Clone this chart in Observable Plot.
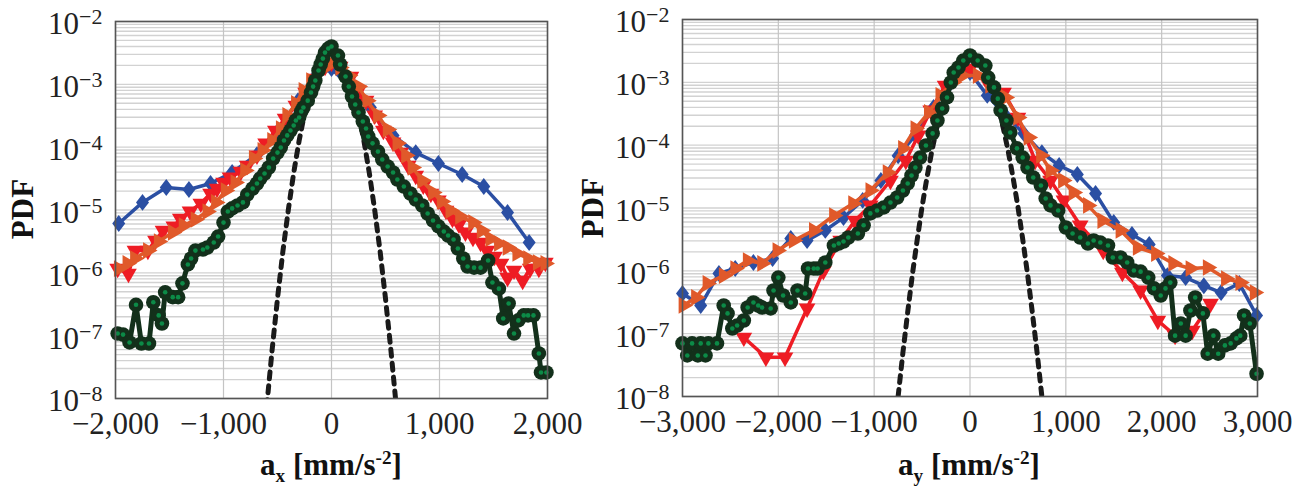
<!DOCTYPE html>
<html><head><meta charset="utf-8">
<script src="https://cdn.jsdelivr.net/npm/d3@7"></script>
<script src="https://cdn.jsdelivr.net/npm/@observablehq/plot@0.6"></script>
<style>
body{margin:0;background:#fff;}
#wrap{position:relative;width:1304px;height:488px;overflow:hidden;font-family:"Liberation Serif",serif;color:#111;}
.panel{position:absolute;top:0;font-family:"Liberation Serif",serif !important;}
.panel text{font-family:"Liberation Serif",serif;}
.xlabel{position:absolute;font-weight:bold;font-size:31px;line-height:31px;white-space:nowrap;transform:translateX(-50%);}
.xlabel sub,.xlabel sup{font-size:0.62em;line-height:0;}
.ylabel{position:absolute;font-weight:bold;font-size:31px;line-height:31px;white-space:nowrap;transform:translate(-50%,-50%) rotate(-90deg);}
</style></head><body><div id="wrap"></div>
<script>
// ---------- shared ticks ----------
const yTicks = [1e-8, 1e-7, 1e-6, 1e-5, 1e-4, 1e-3, 1e-2];
const axTicks = [-2000, -1000, 0, 1000, 2000];
const ayTicks = [-3000, -2000, -1000, 0, 1000, 2000, 3000];

// ---------- a_x panel ----------
const axGaussX = [-600,-550,-500,-450,-400,-350,-300,-250,-200,-150,-100,-50,0,50,100,150,200,250,300,350,400,450,500,550,600];
const axGaussPdf = [7.4e-9,5.9e-8,3.9e-7,2.2e-6,1.0e-5,3.9e-5,1.26e-4,3.4e-4,7.6e-4,1.44e-3,2.25e-3,2.96e-3,3.24e-3,2.96e-3,2.25e-3,1.44e-3,7.6e-4,3.4e-4,1.26e-4,3.9e-5,1.0e-5,2.2e-6,3.9e-7,5.9e-8,7.4e-9];

const axBlueX = [-1970,-1750,-1530,-1320,-1120,-920,-690,-500,-310,-150,0,180,360,570,780,990,1210,1410,1630,1830];
const axBluePdf = [6.1e-6,1.32e-5,2.28e-5,2.12e-5,2.64e-5,3.95e-5,7.6e-5,1.78e-4,5.5e-4,1.33e-3,1.78e-3,8.6e-4,4.28e-4,1.54e-4,8.2e-5,5.5e-5,3.67e-5,2.36e-5,9.1e-6,3.04e-6];

const axRedX = [-1980,-1880,-1820,-1700,-1630,-1560,-1460,-1400,-1310,-1210,-1120,-1060,-1000,-940,-840,-780,-690,-610,-520,-430,-330,-240,-150,-60,0,
  80,180,250,320,400,480,570,640,710,780,850,920,990,1060,1120,1180,1240,1310,1380,1440,1510,1570,1630,1690,1770,1840,1920,1980];
const axRedPdf = [1.17e-6,9.7e-7,2.26e-6,2.26e-6,3.27e-6,4.7e-6,5.5e-6,7.3e-6,9.5e-6,1.27e-5,1.83e-5,2.2e-5,2.74e-5,3.3e-5,4.1e-5,5.1e-5,7.4e-5,1.15e-4,1.84e-4,2.86e-4,4.6e-4,7.4e-4,1.24e-3,1.92e-3,2.22e-3,
  1.92e-3,1.33e-3,8.0e-4,5.5e-4,3.2e-4,1.84e-4,1.19e-4,8.2e-5,5.1e-5,3.54e-5,2.46e-5,1.83e-5,1.42e-5,9.8e-6,7.3e-6,5.9e-6,4.4e-6,3.65e-6,3.04e-6,2.26e-6,1.82e-6,1.41e-6,8.4e-7,1.09e-6,7.5e-7,1.17e-6,1.17e-6,1.46e-6];

const axOrangeX = [-1970,-1890,-1820,-1700,-1600,-1470,-1370,-1260,-1150,-1070,-980,-890,-800,-720,-640,-550,-470,-410,-330,-260,-190,-100,0,
  80,160,250,330,430,520,610,690,750,840,940,1020,1100,1190,1310,1390,1470,1550,1630,1720,1820,1910,1980];
const axOrangePdf = [1.17e-6,1.41e-6,1.69e-6,2.26e-6,3.15e-6,4.4e-6,5.66e-6,7.06e-6,9.45e-6,1.32e-5,2.04e-5,2.74e-5,4.25e-5,6.6e-5,8.9e-5,1.28e-4,1.98e-4,3.2e-4,4.96e-4,8.0e-4,1.15e-3,1.66e-3,2.14e-3,
  1.85e-3,1.38e-3,9.2e-4,5.5e-4,3.2e-4,1.91e-4,1.15e-4,7.4e-5,4.75e-5,2.95e-5,1.9e-5,1.37e-5,9.8e-6,7.9e-6,6.3e-6,4.7e-6,3.5e-6,2.93e-6,2.53e-6,2.03e-6,1.69e-6,1.46e-6,1.41e-6];

const axGreenX = [-1980,-1930,-1870,-1810,-1760,-1690,-1650,-1600,-1570,-1540,-1470,-1420,-1380,-1330,-1300,-1260,-1190,-1150,-1090,-1050,-1000,-960,-920,-870,-820,-780,-730,-690,-660,-620,-580,-540,-500,-470,-440,-410,-380,-350,-330,-300,-280,-260,-220,-190,-170,-150,-120,-100,-80,-60,-30,0,
  60,80,130,160,190,220,250,290,320,340,380,430,470,520,570,610,670,730,780,840,890,940,990,1040,1080,1130,1170,1220,1260,1320,1380,1450,1490,1550,1590,1640,1690,1730,1780,1820,1870,1920,1940,1990];
const axGreenPdf = [1.08e-7,1.04e-7,7.8e-8,3.1e-7,7.5e-8,7.5e-8,3.4e-7,2.1e-7,1.56e-7,4.9e-7,4.1e-7,4.1e-7,6.8e-7,1.36e-6,1.69e-6,2.26e-6,2.35e-6,2.53e-6,3.04e-6,3.78e-6,6.3e-6,9.45e-6,1.06e-5,1.18e-5,1.32e-5,1.76e-5,2.2e-5,2.64e-5,3.17e-5,3.81e-5,4.75e-5,6.6e-5,8.2e-5,9.9e-5,1.28e-4,1.54e-4,1.84e-4,2.21e-4,2.66e-4,2.97e-4,3.7e-4,4.28e-4,5.5e-4,7.4e-4,9.2e-4,1.15e-3,1.66e-3,2.07e-3,2.57e-3,3.2e-3,3.71e-3,4.0e-3,
  2.87e-3,2.07e-3,1.33e-3,9.2e-4,6.4e-4,4.77e-4,3.57e-4,2.56e-4,1.98e-4,1.48e-4,1.15e-4,8.5e-5,6.35e-5,4.92e-5,3.95e-5,3.06e-5,2.36e-5,1.83e-5,1.47e-5,1.18e-5,8.8e-6,6.8e-6,5.5e-6,4.54e-6,3.92e-6,3.39e-6,2.44e-6,1.69e-6,1.26e-6,1.21e-6,1.21e-6,1.57e-6,7.0e-7,5.6e-7,1.88e-7,3.25e-7,1.08e-7,1.75e-7,2.1e-7,2.1e-7,2.1e-7,5.2e-8,2.6e-8,2.6e-8];

// ---------- a_y panel ----------
const ayGaussX = [-750,-700,-650,-600,-550,-500,-450,-400,-350,-300,-250,-200,-100,0,100,200,250,300,350,400,450,500,550,600,650,700,750];
const ayGaussPdf = [1.0e-8,5.0e-8,2.2e-7,9.0e-7,3.2e-6,1.05e-5,3.0e-5,7.8e-5,1.8e-4,3.7e-4,6.8e-4,1.13e-3,2.2e-3,2.75e-3,2.2e-3,1.13e-3,6.8e-4,3.7e-4,1.8e-4,7.8e-5,3.0e-5,1.05e-5,3.2e-6,9.0e-7,2.2e-7,5.0e-8,1.0e-8];

const ayBlueX = [-3000,-2810,-2620,-2450,-2260,-2060,-1870,-1700,-1510,-1320,-1120,-930,-750,-570,-380,-200,0,180,370,560,750,930,1120,1310,1500,1690,1870,2060,2250,2440,2620,2810,2990];
const ayBluePdf = [4.36e-7,2.81e-7,9.1e-7,1.09e-6,1.36e-6,1.57e-6,3.27e-6,3.04e-6,4.4e-6,7.06e-6,1.32e-5,2.74e-5,6.8e-5,1.43e-4,3.98e-4,9.95e-4,1.43e-3,6.2e-4,2.97e-4,1.54e-4,7.6e-5,4.75e-5,3.42e-5,1.7e-5,5.9e-6,3.78e-6,2.62e-6,8.4e-7,7.8e-7,5.8e-7,4.5e-7,6.3e-7,1.95e-7];

const ayRedX = [-2360,-2130,-1930,-1700,-1530,-1350,-1200,-1040,-830,-670,-540,-410,-260,-120,0,160,350,500,680,840,980,1150,1390,1590,1780,1960,2140,2320,2510];
const ayRedPdf = [8.7e-8,4.2e-8,4.2e-8,2.52e-7,1.0e-6,3.04e-6,6.3e-6,1.1e-5,2.74e-5,5.7e-5,1.43e-4,3.57e-4,8.9e-4,1.43e-3,1.66e-3,1.15e-3,6.9e-4,2.76e-4,5.7e-5,2.74e-5,1.32e-5,5.3e-6,2.1e-6,9.4e-7,4.9e-7,1.62e-7,9.3e-8,1.12e-7,3.02e-7];

const ayOrangeX = [-2990,-2860,-2740,-2570,-2450,-2320,-2170,-2010,-1840,-1630,-1420,-1220,-1040,-860,-700,-570,-430,-310,-180,-80,80,210,370,500,610,740,840,970,1080,1230,1380,1570,1750,1940,2120,2300,2480,2670,2820,2970];
const ayOrangePdf = [2.81e-7,3.77e-7,6.3e-7,8.4e-7,1.09e-6,1.46e-6,1.31e-6,2.1e-6,3.04e-6,4.4e-6,7.6e-6,1.18e-5,1.9e-5,3.67e-5,8.9e-5,1.84e-4,3.32e-4,6.2e-4,1.0e-3,1.28e-3,1.28e-3,8.9e-4,5.75e-4,2.76e-4,1.33e-4,6.85e-5,3.95e-5,2.74e-5,1.76e-5,1.1e-5,6.3e-6,4.4e-6,2.35e-6,1.88e-6,1.31e-6,1.09e-6,1.13e-6,7.5e-7,6.5e-7,4.5e-7];

const ayGreenX = [-3000,-2950,-2900,-2840,-2810,-2760,-2730,-2640,-2570,-2530,-2480,-2430,-2360,-2320,-2260,-2210,-2170,-2080,-2050,-2000,-1950,-1870,-1800,-1720,-1690,-1630,-1590,-1510,-1420,-1370,-1320,-1270,-1170,-1110,-1040,-970,-900,-830,-760,-700,-650,-610,-570,-520,-460,-390,-340,-290,-240,-200,-170,-120,-70,0,
  80,160,190,250,290,320,380,420,490,550,600,660,740,790,840,920,1000,1070,1150,1230,1290,1360,1440,1490,1570,1640,1710,1780,1860,1920,1990,2040,2090,2140,2200,2250,2300,2350,2430,2480,2540,2590,2660,2720,2780,2820,2860,2920,2990];
const ayGreenPdf = [7.0e-8,4.5e-8,7.0e-8,4.5e-8,7.0e-8,4.5e-8,7.0e-8,7.0e-8,2.81e-7,2.1e-7,1.21e-7,1.35e-7,1.62e-7,2.61e-7,3.14e-7,2.81e-7,2.61e-7,2.52e-7,4.87e-7,7.8e-7,4.05e-7,3.14e-7,4.87e-7,4.36e-7,1.09e-6,1.09e-6,1.09e-6,1.36e-6,2.53e-6,2.72e-6,2.93e-6,3.39e-6,3.92e-6,5.3e-6,8.2e-6,9.1e-6,1.02e-5,1.22e-5,1.47e-5,1.9e-5,2.46e-5,3.29e-5,4.4e-5,6.35e-5,9.9e-5,1.54e-4,2.47e-4,3.84e-4,5.75e-4,9.95e-4,1.43e-3,1.72e-3,2.22e-3,2.67e-3,
  2.22e-3,1.85e-3,1.19e-3,8.3e-4,5.5e-4,3.57e-4,2.47e-4,1.59e-4,8.9e-5,6.35e-5,4.4e-5,3.06e-5,2.28e-5,1.42e-5,1.1e-5,9.1e-6,4.9e-6,3.92e-6,3.39e-6,2.72e-6,3.04e-6,2.82e-6,2.53e-6,1.63e-6,1.63e-6,1.36e-6,1.01e-6,9.7e-7,7.8e-7,5.25e-7,4.05e-7,5.25e-7,6.5e-7,9.3e-8,1.45e-7,9.3e-8,2.34e-7,3.77e-7,2.1e-7,4.8e-8,9.3e-8,4.8e-8,6.5e-8,7.0e-8,8.4e-8,9.3e-8,1.95e-7,1.45e-7,2.3e-8];

// ---------- styling ----------
const COL = {blue: "#2b4fa3", red: "#ee1c24", orange: "#e0592a", green: "#13301b", greenDot: "#0c8a47", gauss: "#1a1a1a"};
const FONT = '"Liberation Serif", serif';

const diamondSymbol = {
  draw(ctx, size) {
    const r = Math.sqrt(size / Math.PI);
    const w = r * 1.0, h = r * 1.3;
    ctx.moveTo(0, -h); ctx.lineTo(w, 0); ctx.lineTo(0, h); ctx.lineTo(-w, 0); ctx.closePath();
  }
};

const rows = (xs, ys) => xs.map((x, i) => ({x, y: ys[i]}));

function makePanel(cfg) {
  const g = rows(cfg.gx, cfg.gy), b = rows(cfg.bx, cfg.by), r = rows(cfg.rx, cfg.ry),
        o = rows(cfg.ox, cfg.oy), k = rows(cfg.kx, cfg.ky);
  const svg = Plot.plot({
    width: cfg.width, height: 488,
    marginLeft: cfg.ml, marginRight: cfg.mr, marginTop: cfg.mt, marginBottom: cfg.mb,
    style: {fontFamily: FONT, fontSize: "31px", background: "transparent", color: "#222", overflow: "visible"},
    x: {domain: cfg.xDomain},
    y: {type: "log", domain: [1e-8, 1e-2]},
    marks: [
      Plot.gridY({ticks: 60, stroke: "#d2d2d2", strokeOpacity: 1, strokeWidth: 1.4}),
      Plot.gridX({ticks: cfg.xTicks, stroke: "#c4c4c4", strokeOpacity: 1, strokeWidth: 1.2}),
      Plot.axisX({ticks: cfg.xTicks, tickSize: 0, tickPadding: 13, tickFormat: d3.format(","), label: null, fontFamily: FONT, fontSize: 31}),
      Plot.axisY({ticks: yTicks, tickSize: 0, tickPadding: 13, dy: 3, tickFormat: d => "10|" + Math.round(Math.log10(d)), label: null, fontFamily: FONT, fontSize: 31}),
      Plot.line(g, {x: "x", y: "y", stroke: COL.gauss, strokeWidth: 5, strokeDasharray: "7,7", clip: true}),
      Plot.line(b, {x: "x", y: "y", stroke: COL.blue, strokeWidth: 3.5, clip: true}),
      Plot.dot(b, {x: "x", y: "y", symbol: diamondSymbol, r: 6.5, fill: COL.blue, stroke: "none"}),
      Plot.line(r, {x: "x", y: "y", stroke: COL.red, strokeWidth: 3.5, clip: true}),
      Plot.dot(r, {x: "x", y: "y", symbol: "triangle", r: 6.2, rotate: 180, fill: COL.red, stroke: "none"}),
      Plot.line(o, {x: "x", y: "y", stroke: COL.orange, strokeWidth: 3.5, clip: true}),
      Plot.dot(o, {x: "x", y: "y", symbol: "triangle", r: 6.2, rotate: 90, fill: COL.orange, stroke: "none"}),
      Plot.line(k, {x: "x", y: "y", stroke: COL.green, strokeWidth: 5, clip: true}),
      Plot.dot(k, {x: "x", y: "y", r: 7.3, fill: COL.green, stroke: "none"}),
      Plot.dot(k, {x: "x", y: "y", r: 2.3, fill: COL.greenDot, stroke: "none"}),
      Plot.frame({stroke: "#555", strokeWidth: 1.6})
    ]
  });
  // superscript exponents on y tick labels
  svg.querySelectorAll('g[aria-label="y-axis tick label"] text').forEach(t => {
    const [base, ex] = t.textContent.split("|");
    t.textContent = "";
    const ns = "http://www.w3.org/2000/svg";
    const a = document.createElementNS(ns, "tspan"); a.textContent = base; t.appendChild(a);
    const s = document.createElementNS(ns, "tspan");
    s.setAttribute("dy", "-10"); s.setAttribute("font-size", "22");
    s.textContent = ex.replace("-", "\u2212"); t.appendChild(s);
  });
  svg.classList.add("panel");
  svg.style.left = cfg.left + "px";
  return svg;
}

const wrap = document.getElementById("wrap");
wrap.appendChild(makePanel({
  left: 0, width: 600, ml: 115, mr: 53, mt: 21, mb: 90,
  xDomain: [-2000, 2000], xTicks: axTicks,
  gx: axGaussX, gy: axGaussPdf, bx: axBlueX, by: axBluePdf, rx: axRedX, ry: axRedPdf,
  ox: axOrangeX, oy: axOrangePdf, kx: axGreenX, ky: axGreenPdf
}));
wrap.appendChild(makePanel({
  left: 600, width: 704, ml: 82, mr: 47, mt: 19, mb: 92,
  xDomain: [-3000, 3000], xTicks: ayTicks,
  gx: ayGaussX, gy: ayGaussPdf, bx: ayBlueX, by: ayBluePdf, rx: ayRedX, ry: ayRedPdf,
  ox: ayOrangeX, oy: ayOrangePdf, kx: ayGreenX, ky: ayGreenPdf
}));

// axis titles (HTML for sub/superscripts)
function addLabel(cls, html, x, y) {
  const d = document.createElement("div");
  d.className = cls; d.innerHTML = html;
  d.style.left = x + "px"; d.style.top = y + "px";
  wrap.appendChild(d);
}
addLabel("xlabel", "a<sub>x</sub> [mm/s<sup>-2</sup>]", 331, 449);
addLabel("xlabel", "a<sub>y</sub> [mm/s<sup>-2</sup>]", 969, 449);
addLabel("ylabel", "PDF", 22, 209);
addLabel("ylabel", "PDF", 592, 208);
</script>
</body></html>
